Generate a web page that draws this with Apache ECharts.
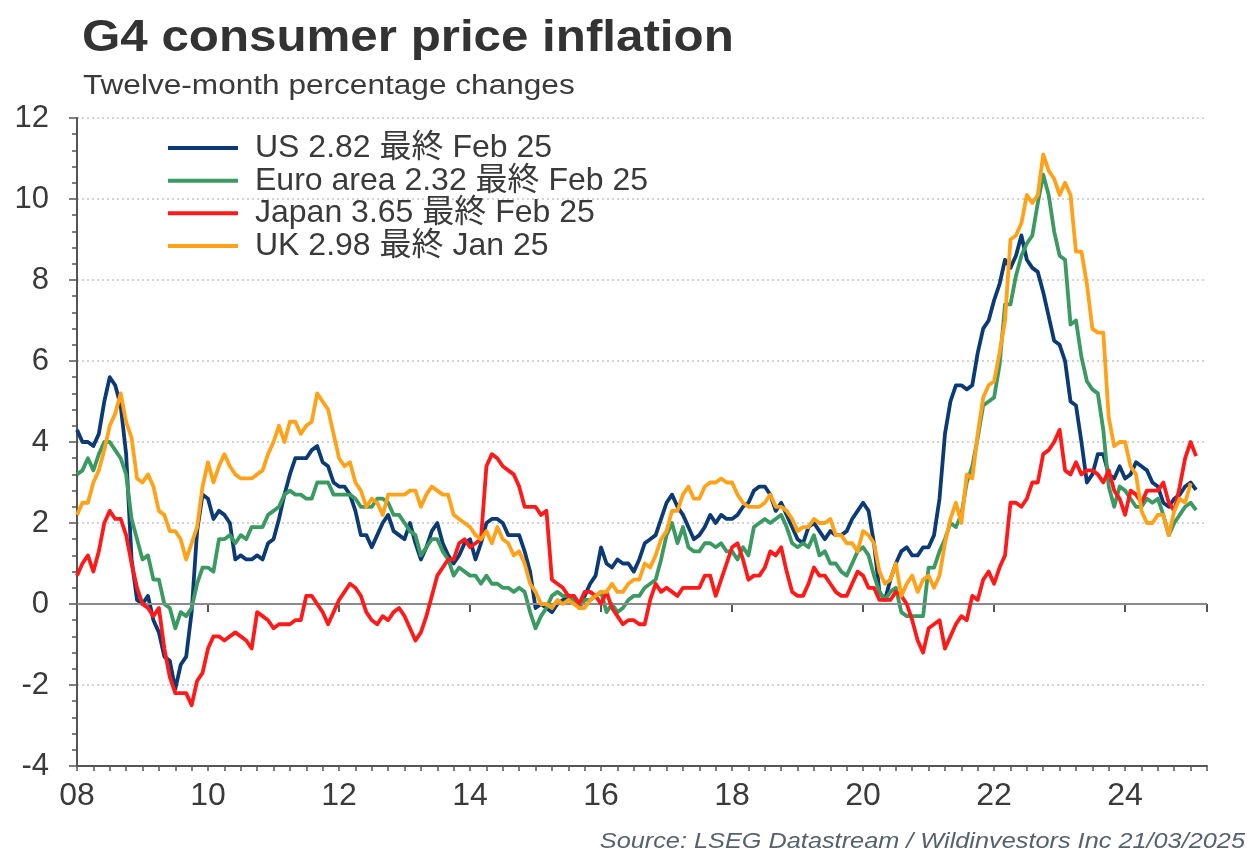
<!DOCTYPE html>
<html>
<head>
<meta charset="utf-8">
<script src="https://cdn.jsdelivr.net/npm/echarts@6/dist/echarts.min.js"></script>
<style>
  html, body { margin: 0; padding: 0; background: #fff; }
  #chart { width: 1247px; height: 854px; }
</style>
</head>
<body>
<div id="chart"></div>
<script>
'use strict';
// G4 consumer price inflation, twelve-month % changes, monthly Jan 2008 onward

const yearLabels = ['08', '10', '12', '14', '16', '18', '20', '22', '24'];

const seriesNames = ['US 2.82 最終 Feb 25', 'Euro area 2.32 最終 Feb 25', 'Japan 3.65 最終 Feb 25', 'UK 2.98 最終 Jan 25'];

const usCpi = [
  4.3, 4.0, 4.0, 3.9, 4.2, 5.0, 5.6, 5.4, 4.9, 3.7, 1.1, 0.1,
  0.0, 0.2, -0.4, -0.7, -1.3, -1.4, -2.1, -1.5, -1.3, -0.2, 1.8, 2.7,
  2.6, 2.1, 2.3, 2.2, 2.0, 1.1, 1.2, 1.1, 1.1, 1.2, 1.1, 1.5,
  1.6, 2.1, 2.7, 3.2, 3.6, 3.6, 3.6, 3.8, 3.9, 3.5, 3.4, 3.0,
  2.9, 2.9, 2.7, 2.3, 1.7, 1.7, 1.4, 1.7, 2.0, 2.2, 1.8, 1.7,
  1.6, 2.0, 1.5, 1.1, 1.4, 1.8, 2.0, 1.5, 1.2, 1.0, 1.2, 1.5,
  1.6, 1.1, 1.5, 2.0, 2.1, 2.1, 2.0, 1.7, 1.7, 1.7, 1.3, 0.8,
  -0.1, 0.0, -0.1, -0.2, 0.0, 0.1, 0.2, 0.2, 0.0, 0.2, 0.5, 0.7,
  1.4, 1.0, 0.9, 1.1, 1.0, 1.0, 0.8, 1.1, 1.5, 1.6, 1.7, 2.1,
  2.5, 2.7, 2.4, 2.2, 1.9, 1.6, 1.7, 1.9, 2.2, 2.0, 2.2, 2.1,
  2.1, 2.2, 2.4, 2.5, 2.8, 2.9, 2.9, 2.7, 2.3, 2.5, 2.2, 1.9,
  1.6, 1.5, 1.9, 2.0, 1.8, 1.6, 1.8, 1.7, 1.7, 1.8, 2.1, 2.3,
  2.5, 2.3, 1.5, 0.3, 0.1, 0.6, 1.0, 1.3, 1.4, 1.2, 1.2, 1.4,
  1.4, 1.7, 2.6, 4.2, 5.0, 5.4, 5.4, 5.3, 5.4, 6.2, 6.8, 7.0,
  7.5, 7.9, 8.5, 8.3, 8.6, 9.1, 8.5, 8.3, 8.2, 7.7, 7.1, 6.5,
  6.4, 6.0, 5.0, 4.9, 4.0, 3.0, 3.2, 3.7, 3.7, 3.2, 3.1, 3.4,
  3.1, 3.2, 3.5, 3.4, 3.3, 3.0, 2.9, 2.5, 2.4, 2.6, 2.7, 2.9,
  3.0, 2.82
];

const euroCpi = [
  3.2, 3.3, 3.6, 3.3, 3.7, 4.0, 4.0, 3.8, 3.6, 3.2, 2.1, 1.6,
  1.1, 1.2, 0.6, 0.6, 0.0, -0.1, -0.6, -0.2, -0.3, -0.1, 0.5, 0.9,
  0.9, 0.8, 1.6, 1.6, 1.7, 1.5, 1.7, 1.6, 1.9, 1.9, 1.9, 2.2,
  2.3, 2.4, 2.7, 2.8, 2.7, 2.7, 2.6, 2.6, 3.0, 3.0, 3.0, 2.7,
  2.7, 2.7, 2.7, 2.6, 2.4, 2.4, 2.4, 2.6, 2.6, 2.5, 2.2, 2.2,
  2.0, 1.8, 1.7, 1.2, 1.4, 1.6, 1.6, 1.3, 1.1, 0.7, 0.9, 0.8,
  0.7, 0.7, 0.5, 0.7, 0.5, 0.5, 0.4, 0.4, 0.3, 0.4, 0.3, -0.2,
  -0.6, -0.3, -0.1, 0.2, 0.3, 0.2, 0.2, 0.1, -0.1, 0.1, 0.1, 0.2,
  0.3, -0.2, 0.0, -0.2, -0.1, 0.1, 0.2, 0.2, 0.4, 0.5, 0.6, 1.1,
  1.7, 2.0, 1.5, 1.9, 1.4, 1.3, 1.3, 1.5, 1.5, 1.4, 1.5, 1.3,
  1.3, 1.1, 1.4, 1.2, 1.9, 2.0, 2.1, 2.0, 2.1, 2.2, 1.9, 1.5,
  1.4, 1.5, 1.4, 1.7, 1.2, 1.3, 1.0, 1.0, 0.8, 0.7, 1.0, 1.3,
  1.4, 1.2, 0.7, 0.3, 0.1, 0.3, 0.4, -0.2, -0.3, -0.3, -0.3, -0.3,
  0.9, 0.9, 1.3, 1.6, 2.0, 1.9, 2.2, 3.0, 3.4, 4.1, 4.9, 5.0,
  5.1, 5.9, 7.4, 7.4, 8.1, 8.6, 8.9, 9.1, 9.9, 10.6, 10.1, 9.2,
  8.6, 8.5, 6.9, 7.0, 6.1, 5.5, 5.3, 5.2, 4.3, 2.9, 2.4, 2.9,
  2.8, 2.6, 2.4, 2.4, 2.6, 2.5, 2.6, 2.2, 1.7, 2.0, 2.2, 2.4,
  2.5, 2.32
];

const japanCpi = [
  0.7, 1.0, 1.2, 0.8, 1.3, 2.0, 2.3, 2.1, 2.1, 1.7, 1.0, 0.4,
  0.0, -0.1, -0.3, -0.1, -1.1, -1.8, -2.2, -2.2, -2.2, -2.5, -1.9, -1.7,
  -1.1, -0.8, -0.8, -0.9, -0.8, -0.7, -0.8, -0.9, -1.1, -0.2, -0.3, -0.4,
  -0.6, -0.5, -0.5, -0.5, -0.4, -0.4, 0.2, 0.2, 0.0, -0.2, -0.5, -0.2,
  0.1, 0.3, 0.5, 0.4, 0.2, -0.2, -0.4, -0.5, -0.3, -0.4, -0.2, -0.1,
  -0.3, -0.6, -0.9, -0.7, -0.3, 0.2, 0.7, 0.9, 1.1, 1.1, 1.5, 1.6,
  1.4, 1.5, 1.6, 3.4, 3.7, 3.6, 3.4, 3.3, 3.2, 2.9, 2.4, 2.4,
  2.4, 2.2, 2.3, 0.6, 0.5, 0.4, 0.2, 0.2, 0.0, 0.3, 0.3, 0.2,
  0.0, 0.3, -0.1, -0.3, -0.5, -0.4, -0.4, -0.5, -0.5, 0.1, 0.5, 0.3,
  0.4, 0.3, 0.2, 0.4, 0.4, 0.4, 0.4, 0.7, 0.7, 0.2, 0.6, 1.0,
  1.4, 1.5, 1.1, 0.6, 0.7, 0.7, 0.9, 1.3, 1.2, 1.4, 0.8, 0.3,
  0.2, 0.2, 0.5, 0.9, 0.7, 0.7, 0.5, 0.3, 0.2, 0.2, 0.5, 0.8,
  0.7, 0.4, 0.4, 0.1, 0.1, 0.1, 0.3, 0.2, 0.0, -0.4, -0.9, -1.2,
  -0.6, -0.5, -0.4, -1.1, -0.8, -0.5, -0.3, -0.4, 0.2, 0.1, 0.6, 0.8,
  0.5, 0.9, 1.2, 2.5, 2.5, 2.4, 2.6, 3.0, 3.0, 3.7, 3.8, 4.0,
  4.3, 3.3, 3.2, 3.5, 3.2, 3.3, 3.3, 3.2, 3.0, 3.3, 2.8, 2.6,
  2.2, 2.8, 2.7, 2.5, 2.8, 2.8, 2.8, 3.0, 2.5, 2.3, 2.9, 3.6,
  4.0, 3.65
];

const ukCpi = [
  2.2, 2.5, 2.5, 3.0, 3.3, 3.8, 4.4, 4.7, 5.2, 4.5, 4.1, 3.1,
  3.0, 3.2, 2.9, 2.3, 2.2, 1.8, 1.8, 1.6, 1.1, 1.5, 1.9, 2.9,
  3.5, 3.0, 3.4, 3.7, 3.4, 3.2, 3.1, 3.1, 3.1, 3.2, 3.3, 3.7,
  4.0, 4.4, 4.0, 4.5, 4.5, 4.2, 4.4, 4.5, 5.2, 5.0, 4.8, 4.2,
  3.6, 3.4, 3.5, 3.0, 2.8, 2.4, 2.6, 2.5, 2.2, 2.7, 2.7, 2.7,
  2.7, 2.8, 2.8, 2.4, 2.7, 2.9, 2.8, 2.7, 2.7, 2.2, 2.1, 2.0,
  1.9, 1.7, 1.6, 1.8, 1.5, 1.9, 1.6, 1.5, 1.2, 1.3, 1.0, 0.5,
  0.3, 0.0, 0.0, -0.1, 0.1, 0.0, 0.1, 0.0, -0.1, -0.1, 0.1, 0.2,
  0.3, 0.3, 0.5, 0.3, 0.3, 0.5, 0.6, 0.6, 1.0, 0.9, 1.2, 1.6,
  1.8, 2.3, 2.3, 2.7, 2.9, 2.6, 2.6, 2.9, 3.0, 3.0, 3.1, 3.0,
  3.0, 2.7, 2.5, 2.4, 2.4, 2.4, 2.5, 2.7, 2.4, 2.4, 2.3, 2.1,
  1.8, 1.9, 1.9, 2.1, 2.0, 2.0, 2.1, 1.7, 1.7, 1.5, 1.5, 1.3,
  1.8, 1.7, 1.5, 0.8, 0.5, 0.6, 1.0, 0.2, 0.5, 0.7, 0.3, 0.6,
  0.7, 0.4, 0.7, 1.5, 2.1, 2.5, 2.0, 3.2, 3.1, 4.2, 5.1, 5.4,
  5.5, 6.2, 7.0, 9.0, 9.1, 9.4, 10.1, 9.9, 10.1, 11.1, 10.7, 10.5,
  10.1, 10.4, 10.1, 8.7, 8.7, 7.9, 6.8, 6.7, 6.7, 4.6, 3.9, 4.0,
  4.0, 3.4, 3.2, 2.3, 2.0, 2.0, 2.2, 2.2, 1.7, 2.3, 2.6, 2.5,
  2.98
];

const lineColors = ['#0b3a74', '#3a9a62', '#ff1a1a', '#ffa21a'];

const FONT = "'Liberation Sans', Arial, 'Noto Sans CJK JP', sans-serif";
const TXT = '#3a3a3a';

// month index -> [x, y] pairs for the value x axis
const toPairs = (arr) => arr.map((v, i) => [i, v]);

const chart = echarts.init(document.getElementById('chart'), null, { renderer: 'canvas' });

const lineSeries = [usCpi, euroCpi, japanCpi, ukCpi].map((arr, i) => ({
  name: seriesNames[i],
  type: 'line',
  data: toPairs(arr),
  showSymbol: false,
  symbol: 'none',
  lineStyle: { color: lineColors[i], width: 3.8, join: 'round' },
  itemStyle: { color: lineColors[i] },
  z: 3 + i,
  animation: false
}));

// zero line
lineSeries[0].markLine = {
  silent: true,
  symbol: 'none',
  label: { show: false },
  lineStyle: { color: '#8a8a8a', width: 2, type: 'solid' },
  data: [{ yAxis: 0 }],
  animation: false
};

// the reference lettering is a little wider than Liberation Sans, so stretch it
function stretchedText(text, x, y, font, fill, sx, align) {
  return {
    type: 'text', x: x, y: y, scaleX: sx, silent: true,
    style: { text: text, font: font, fill: fill, textAlign: align || 'left', align: align || 'left', textVerticalAlign: 'top', verticalAlign: 'top' }
  };
}

chart.setOption({
  backgroundColor: '#fff',
  animation: false,
  textStyle: { fontFamily: FONT },
  legend: {
    orient: 'vertical',
    left: 168,
    top: 132,
    padding: 0,
    itemWidth: 70,
    itemHeight: 4,
    itemGap: 0.4,
    icon: 'rect',
    data: seriesNames,
    textStyle: { fontFamily: FONT, fontSize: 32, color: TXT, padding: [0, 0, 0, 12], lineHeight: 32.2 }
  },
  grid: { left: 77, right: 40, top: 118, bottom: 88, containLabel: false },
  xAxis: [
    {
      type: 'value', min: 0, max: 207, interval: 3,
      axisLine: { show: true, onZero: false, lineStyle: { color: '#555', width: 2 } },
      axisTick: { show: true, length: 5, lineStyle: { color: '#555', width: 1.5 } },
      axisLabel: { show: false },
      splitLine: { show: false }
    },
    {
      type: 'value', min: 0, max: 207, interval: 24, position: 'bottom',
      axisLine: { show: false },
      axisTick: { show: true, length: 8, lineStyle: { color: '#555', width: 2 } },
      axisLabel: {
        show: true, fontFamily: FONT, fontSize: 32, color: TXT, margin: 14,
        formatter: (v) => (v % 24 === 0 ? yearLabels[v / 24] : '')
      },
      splitLine: { show: false }
    }
  ],
  yAxis: {
    type: 'value', min: -4, max: 12, interval: 2,
    axisLine: { show: true, lineStyle: { color: '#555', width: 2 } },
    axisTick: { show: true, length: 8, lineStyle: { color: '#555', width: 1.5 } },
    minorTick: { show: true, splitNumber: 5, length: 5, lineStyle: { color: '#555', width: 1.5 } },
    axisLabel: { fontFamily: FONT, fontSize: 31, color: TXT, margin: 28 },
    splitLine: { show: true, lineStyle: { color: '#c4c4c4', width: 1.5, type: [2, 3] } }
  },
  graphic: [
    stretchedText('G4 consumer price inflation', 82, 17, 'bold 44px ' + FONT, '#333', 1.12),
    stretchedText('Twelve-month percentage changes', 83, 73, '27px ' + FONT, TXT, 1.17),
    stretchedText('Source: LSEG Datastream / Wildinvestors Inc 21/03/2025', 1245, 831, 'italic 22px ' + FONT, '#55626e', 1.15, 'right')
  ],
  series: lineSeries
});
</script>
</body>
</html>
